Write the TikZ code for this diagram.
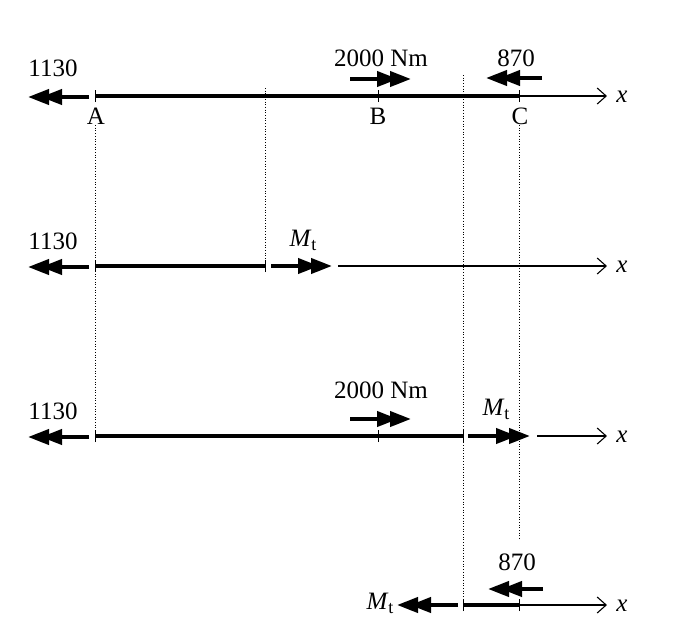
\documentclass[tikz,border=0pt]{standalone}
\usepackage{fontspec}
\setmainfont{Liberation Serif}
\usetikzlibrary{arrows.meta}
\newcommand{\Mt}{\textit{M}\raisebox{-0.35ex}{\fontsize{18}{20}\selectfont t}}
\begin{document}
\begin{tikzpicture}[x=1pt,y=-1pt,
  lbl/.style={inner sep=0pt,font=\fontsize{25}{30}\selectfont},
  beam/.style={line width=4pt},
  axis/.style={line width=1.1pt,-{Straight Barb[length=9pt,width=16pt,line width=1.1pt]}},
  force/.style={line width=4pt,-{Triangle[length=21pt,width=15pt,sep=-8pt]Triangle[length=21pt,width=15pt]}},
  guide/.style={line width=0.7pt,dotted},
  tick/.style={line width=1pt}]
\useasboundingbox (0,0) rectangle (686,641);

% dotted guide lines
\coordinate (gA1) at (95,125);  \coordinate (gA2) at (95,436);
\coordinate (g21) at (265,88);  \coordinate (g22) at (265,266);
\coordinate (g31) at (463,75);  \coordinate (g32) at (463,605);
\coordinate (gC1) at (519,125); \coordinate (gC2) at (519,540);
\draw[guide] (gA1) -- (gA2);
\draw[guide] (g21) -- (g22);
\draw[guide] (g31) -- (g32);
\draw[guide] (gC1) -- (gC2);

% ---------- row 1 ----------
\coordinate (a1) at (95,96); \coordinate (c1) at (519,96); \coordinate (e1) at (607,96);
\coordinate (b1) at (378,96);
\draw[beam] (a1) -- (c1);
\draw[axis] (c1) -- (e1);
\node[lbl] (x1) at (622,97) {\textit{x}};
\foreach \p in {a1,b1,c1,g21,g31} {}
\draw[tick] ([yshift=-6pt]a1) -- ([yshift=6pt]a1);
\draw[tick] ([yshift=-6pt]b1) -- ([yshift=6pt]b1);
\draw[tick] ([yshift=-6pt]c1) -- ([yshift=6pt]c1);
\node[lbl] (A) at (96,116) {A};
\node[lbl] (B) at (378,116) {B};
\node[lbl] (C) at (520,116) {C};
\coordinate (f1s) at (89,97); \coordinate (f1e) at (28,97);
\draw[force] (f1s) -- (f1e);
\node[lbl] (l1130a) at (53,68) {1130};
\coordinate (m1s) at (350,79); \coordinate (m1e) at (411,79);
\draw[force] (m1s) -- (m1e);
\node[lbl] (l2000a) at (381,58) {2000 Nm};
\coordinate (n1s) at (542,78); \coordinate (n1e) at (486,78);
\draw[force] (n1s) -- (n1e);
\node[lbl] (l870a) at (516,58) {870};

% ---------- row 2 ----------
\coordinate (a2) at (95,266); \coordinate (d2) at (265,266);
\coordinate (s2) at (338,266); \coordinate (e2) at (607,266);
\draw[beam] (a2) -- (d2);
\draw[tick] ([yshift=-6pt]a2) -- ([yshift=6pt]a2);
\draw[tick] ([yshift=-6pt]d2) -- ([yshift=6pt]d2);
\draw[axis] (s2) -- (e2);
\node[lbl] (x2) at (622,267) {\textit{x}};
\coordinate (f2s) at (89,267); \coordinate (f2e) at (28,267);
\draw[force] (f2s) -- (f2e);
\node[lbl] (l1130b) at (53,241) {1130};
\coordinate (t2s) at (271,266); \coordinate (t2e) at (332,266);
\draw[force] (t2s) -- (t2e);
\node[lbl] (mt2) at (303,240) {\Mt};

% ---------- row 3 ----------
\coordinate (a3) at (95,436); \coordinate (b3) at (378,436); \coordinate (d3) at (463,436);
\coordinate (s3) at (537,436); \coordinate (e3) at (607,436);
\draw[beam] (a3) -- (d3);
\draw[tick] ([yshift=-6pt]a3) -- ([yshift=6pt]a3);
\draw[tick] ([yshift=-6pt]b3) -- ([yshift=6pt]b3);
\draw[tick] ([yshift=-6pt]d3) -- ([yshift=6pt]d3);
\draw[axis] (s3) -- (e3);
\node[lbl] (x3) at (622,437) {\textit{x}};
\coordinate (f3s) at (89,437); \coordinate (f3e) at (28,437);
\draw[force] (f3s) -- (f3e);
\node[lbl] (l1130c) at (53,411) {1130};
\coordinate (m3s) at (350,419); \coordinate (m3e) at (411,419);
\draw[force] (m3s) -- (m3e);
\node[lbl] (l2000b) at (381,390) {2000 Nm};
\coordinate (t3s) at (468,436); \coordinate (t3e) at (530,436);
\draw[force] (t3s) -- (t3e);
\node[lbl] (mt3) at (496,409) {\Mt};

% ---------- row 4 ----------
\coordinate (d4) at (463,605); \coordinate (c4) at (519,605); \coordinate (e4) at (607,605);
\draw[beam] (d4) -- (c4);
\draw[tick] ([yshift=-6pt]d4) -- ([yshift=6pt]d4);
\draw[tick] ([yshift=-6pt]c4) -- ([yshift=6pt]c4);
\draw[axis] (c4) -- (e4);
\node[lbl] (x4) at (622,606) {\textit{x}};
\coordinate (t4s) at (458,605); \coordinate (t4e) at (397,605);
\draw[force] (t4s) -- (t4e);
\node[lbl] (mt4) at (380,603) {\Mt};
\coordinate (n4s) at (543,589); \coordinate (n4e) at (488,589);
\draw[force] (n4s) -- (n4e);
\node[lbl] (l870b) at (517,562) {870};
\end{tikzpicture}
\end{document}
